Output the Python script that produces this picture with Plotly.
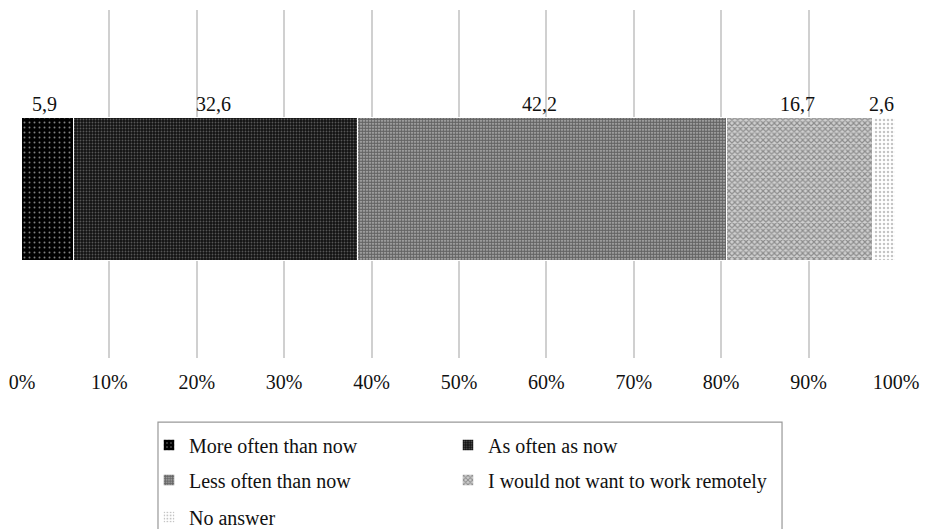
import plotly.graph_objects as go

categories = ["More often than now", "As often as now", "Less often than now",
              "I would not want to work remotely", "No answer"]
values = [5.9, 32.6, 42.2, 16.7, 2.6]
value_labels = ["5,9", "32,6", "42,2", "16,7", "2,6"]
tick_vals = [0, 10, 20, 30, 40, 50, 60, 70, 80, 90, 100]
tick_text = ["0%", "10%", "20%", "30%", "40%", "50%", "60%", "70%", "80%", "90%", "100%"]

patterns = [
    dict(shape=".", bgcolor="#000000", fgcolor="#ffffff", size=5, solidity=0.12),
    dict(shape=".", bgcolor="#121212", fgcolor="#9a9a9a", size=3, solidity=0.3),
    dict(shape=".", bgcolor="#c8c8c8", fgcolor="#000000", size=3, solidity=0.78),
    dict(shape="x", bgcolor="#cfcfcf", fgcolor="#4a4a4a", size=4, solidity=0.5),
    dict(shape=".", bgcolor="#ffffff", fgcolor="#8a8a8a", size=4, solidity=0.3),
]

FONT = "Liberation Serif"
BAR_W = 0.411

# legend slots (paper coords): one legend per entry, laid out in a 2-column grid
legend_ids = ["legend", "legend2", "legend3", "legend4", "legend5"]
col_x = [0.1453, 0.4874]
row_y = [-0.250, -0.3506, -0.457]

fig = go.Figure()
for name, v, pat, lg in zip(categories, values, patterns, legend_ids):
    fig.add_trace(go.Bar(
        x=[v], y=[0], orientation="h", name=name, width=BAR_W,
        marker=dict(color=pat["bgcolor"], pattern=pat,
                    line=dict(color="white", width=1.5)),
        legend=lg, hoverinfo="skip",
    ))

cum = 0
for v, lab in zip(values, value_labels):
    fig.add_annotation(x=cum + v / 2, y=BAR_W / 2, text=lab, showarrow=False,
                       yanchor="bottom", yshift=1, xshift=-3,
                       font=dict(family=FONT, size=20, color="#111"))
    cum += v

leg_common = dict(orientation="h", xanchor="left", yanchor="middle",
                  font=dict(family=FONT, size=20, color="#111"),
                  bgcolor="rgba(0,0,0,0)", borderwidth=0,
                  itemclick=False, itemdoubleclick=False)
legends = {}
for i, lg in enumerate(legend_ids):
    legends[lg] = dict(x=col_x[i % 2], y=row_y[i // 2], **leg_common)

# page body has an 8px margin, so the figure is drawn 8px smaller
fig.update_layout(
    width=921, height=521,
    margin=dict(l=14, r=33, t=2, b=171, autoexpand=False),
    paper_bgcolor="white", plot_bgcolor="white",
    barmode="stack", bargap=0,
    showlegend=True,
    xaxis=dict(range=[0, 100], tickvals=tick_vals, ticktext=tick_text,
               showgrid=True, gridcolor="#d0d0d0", gridwidth=1.5,
               zeroline=False, showline=False,
               ticks="outside", ticklen=6, tickcolor="rgba(0,0,0,0)",
               tickfont=dict(family=FONT, size=20, color="#111")),
    yaxis=dict(range=[-0.484, 0.516], showticklabels=False, showgrid=False,
               zeroline=False, showline=False),
    shapes=[dict(type="rect", xref="paper", yref="paper",
                 x0=0.1556, x1=0.8696, y0=-0.6, y1=-0.184,
                 line=dict(color="#999", width=1.2), fillcolor="rgba(0,0,0,0)")],
    **legends,
)

fig.write_html("out.html")
